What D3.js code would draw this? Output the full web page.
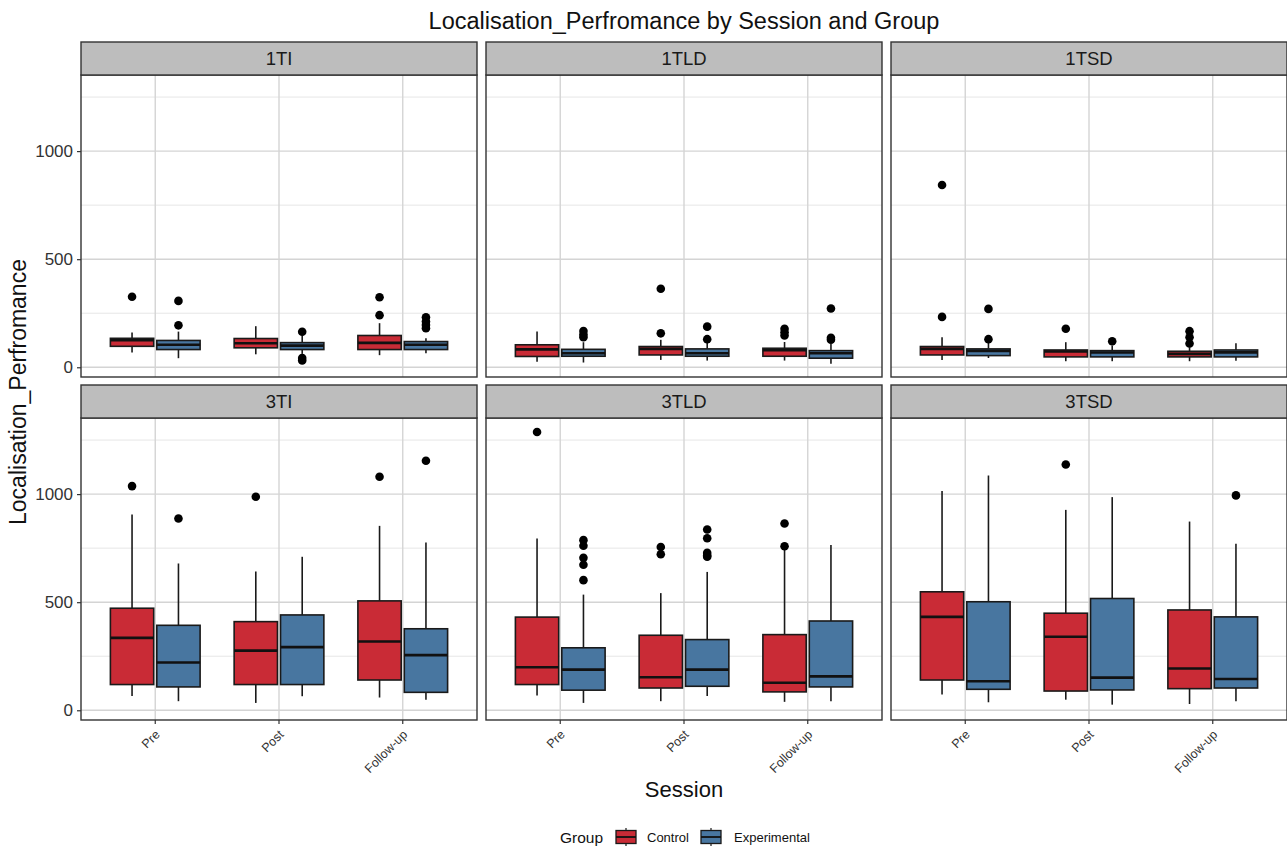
<!DOCTYPE html>
<html>
<head>
<meta charset="utf-8">
<script src="https://cdn.jsdelivr.net/npm/d3@7"></script>
<style>
  body { margin: 0; background: #fff; }
  svg { display: block; font-family: "Liberation Sans", Arial, sans-serif; }
</style>
</head>
<body>
<svg id="chart" width="1287" height="846"></svg>
<script>
"use strict";

// Facets, sessions and groups
const facets = ["1TI", "1TLD", "1TSD", "3TI", "3TLD", "3TSD"];
const sessions = ["Pre", "Post", "Follow-up"];
const groups = ["Control", "Experimental"];

// Box stats per facet: [whisker low, q1, median, q3, whisker high]
// order: Pre-Control, Pre-Exp, Post-Control, Post-Exp, Follow-Control, Follow-Exp
const box1TI = [
    [68, 97, 125, 134, 161], [42, 82, 104, 124, 165],
    [60, 90, 111, 133, 190], [62, 82, 100, 114, 147],
    [56, 82, 113, 147, 204], [65, 82, 104, 119, 134]
];
const box1TLD = [
    [26, 50, 83, 104, 165], [22, 51, 65, 83, 116],
    [34, 57, 85, 96, 127], [31, 51, 65, 85, 114],
    [31, 51, 79, 88, 117], [16, 42, 65, 77, 108]
];
const box1TSD = [
    [34, 57, 85, 96, 139], [43, 54, 76, 85, 116],
    [28, 48, 73, 80, 116], [28, 48, 68, 77, 99],
    [28, 48, 62, 74, 93], [30, 48, 69, 80, 111]
];
const box3TI = [
    [66, 119, 335, 472, 906], [42, 108, 221, 393, 679],
    [34, 119, 276, 410, 642], [65, 119, 292, 441, 710],
    [59, 140, 318, 506, 853], [49, 83, 255, 377, 776]
];
const box3TLD = [
    [68, 119, 199, 431, 795], [34, 93, 188, 289, 535],
    [42, 103, 153, 347, 542], [66, 111, 188, 327, 640],
    [39, 85, 127, 350, 745], [42, 108, 157, 413, 764]
];
const box3TSD = [
    [73, 140, 432, 548, 1014], [37, 97, 134, 502, 1086],
    [49, 89, 340, 449, 927], [26, 94, 151, 517, 986],
    [29, 100, 193, 464, 873], [42, 103, 145, 432, 770]
];

// Outliers, same order
const out1TI = [[326], [307, 194], [], [164, 43, 31], [324, 241], [231, 212, 196, 181]];
const out1TLD = [[], [168, 151, 139], [363, 157], [188, 130], [178, 162, 147], [272, 136, 127]];
const out1TSD = [[843, 233], [270, 130], [178], [120], [167, 139, 110], []];
const out3TI = [[1037], [887], [988], [], [1080], [1154]];
const out3TLD = [[1287], [787, 761, 705, 673, 602], [755, 722], [836, 796, 728, 716, 710], [864, 759], []];
const out3TSD = [[], [], [1137], [], [], [994]];

const yTicks = [0, 500, 1000];
const yMinor = [250, 750, 1250];

const boxes = [box1TI, box1TLD, box1TSD, box3TI, box3TLD, box3TSD];
const outliers = [out1TI, out1TLD, out1TSD, out3TI, out3TLD, out3TSD];

const groupColor = d3.scaleOrdinal().domain(groups).range(["#c92b36", "#4876a0"]);

// Layout (ggplot facet_wrap look)
const panelLeft = [81, 486, 891],
    panelWidth = 396,
    stripTop = [42, 385],
    stripHeight = 33,
    panelHeight = 302;

const svg = d3.select("#chart");

svg.append("text")
    .attr("x", 684).attr("y", 29)
    .attr("text-anchor", "middle")
    .attr("font-size", 23.5)
    .attr("fill", "#111")
    .text("Localisation_Perfromance by Session and Group");

facets.forEach((facet, fi) => {
    const col = fi % 3, row = Math.floor(fi / 3);
    const x0 = panelLeft[col], sTop = stripTop[row], pTop = sTop + stripHeight;

    const x = d3.scaleBand().domain(sessions)
        .range([0, panelWidth]).paddingOuter(0.1).paddingInner(0);
    const step = x.step();
    const y = d3.scaleLinear().domain([-45, 1352]).range([panelHeight, 0]);

    const g = svg.append("g").attr("transform", `translate(${x0},${pTop})`);

    // grid
    g.selectAll(".minor").data(yMinor).join("line")
        .attr("x1", 0).attr("x2", panelWidth)
        .attr("y1", d => y(d)).attr("y2", d => y(d))
        .attr("stroke", "#e6e6e6").attr("stroke-width", 1);
    g.selectAll(".major").data(yTicks).join("line")
        .attr("x1", 0).attr("x2", panelWidth)
        .attr("y1", d => y(d)).attr("y2", d => y(d))
        .attr("stroke", "#d4d4d4").attr("stroke-width", 1.4);
    g.selectAll(".vgrid").data(sessions).join("line")
        .attr("x1", d => x(d) + step / 2).attr("x2", d => x(d) + step / 2)
        .attr("y1", 0).attr("y2", panelHeight)
        .attr("stroke", "#d4d4d4").attr("stroke-width", 1.4);

    // boxes
    const dodge = step * 0.375, bw = step * 0.35;
    boxes[fi].forEach((s, i) => {
        const session = sessions[Math.floor(i / 2)], group = groups[i % 2];
        const cx = x(session) + step / 2 + (i % 2 === 0 ? -dodge / 2 : dodge / 2);
        const [lo, q1, med, q3, hi] = s;
        const bg = g.append("g");
        bg.append("line").attr("x1", cx).attr("x2", cx)
            .attr("y1", y(hi)).attr("y2", y(q3))
            .attr("stroke", "#1a1a1a").attr("stroke-width", 1.6);
        bg.append("line").attr("x1", cx).attr("x2", cx)
            .attr("y1", y(q1)).attr("y2", y(lo))
            .attr("stroke", "#1a1a1a").attr("stroke-width", 1.6);
        bg.append("rect")
            .attr("x", cx - bw / 2).attr("width", bw)
            .attr("y", y(q3)).attr("height", y(q1) - y(q3))
            .attr("fill", groupColor(group))
            .attr("stroke", "#1a1a1a").attr("stroke-width", 1.6);
        bg.append("line").attr("x1", cx - bw / 2).attr("x2", cx + bw / 2)
            .attr("y1", y(med)).attr("y2", y(med))
            .attr("stroke", "#111").attr("stroke-width", 2.6);
        bg.selectAll("circle").data(outliers[fi][i]).join("circle")
            .attr("cx", cx).attr("cy", d => y(d)).attr("r", 4.3)
            .attr("fill", "#000");
    });

    // panel border
    g.append("rect").attr("width", panelWidth).attr("height", panelHeight)
        .attr("fill", "none").attr("stroke", "#333").attr("stroke-width", 1.4);

    // strip
    svg.append("rect")
        .attr("x", x0).attr("y", sTop).attr("width", panelWidth).attr("height", stripHeight)
        .attr("fill", "#bdbdbd").attr("stroke", "#333").attr("stroke-width", 1.4);
    svg.append("text")
        .attr("x", x0 + panelWidth / 2).attr("y", sTop + stripHeight / 2 + 6.5)
        .attr("text-anchor", "middle").attr("font-size", 18.5).attr("fill", "#1a1a1a")
        .text(facet);

    // y axis on left column
    if (col === 0) {
        const ya = g.append("g")
            .call(d3.axisLeft(y).tickValues(yTicks).tickFormat(d3.format("d")).tickSize(4).tickPadding(4));
        ya.select(".domain").remove();
        ya.selectAll("line").attr("stroke", "#333").attr("stroke-width", 1.2);
        ya.selectAll("text").attr("font-size", 17).attr("fill", "#333")
            .attr("font-family", "Liberation Sans, Arial, sans-serif");
    }

    // x axis on bottom row
    if (row === 1) {
        const xa = g.append("g").attr("transform", `translate(0,${panelHeight})`)
            .call(d3.axisBottom(x).tickSize(4).tickPadding(2));
        xa.select(".domain").remove();
        xa.selectAll("line").attr("stroke", "#333").attr("stroke-width", 1.2);
        xa.selectAll("text")
            .attr("font-size", 12.5).attr("fill", "#333")
            .attr("font-family", "Liberation Sans, Arial, sans-serif")
            .attr("text-anchor", "end")
            .attr("dy", "0.35em")
            .attr("transform", "translate(-2,8) rotate(-45)");
    }
});

// axis titles
svg.append("text")
    .attr("x", 684).attr("y", 797)
    .attr("text-anchor", "middle").attr("font-size", 22).attr("fill", "#111")
    .text("Session");
svg.append("text")
    .attr("transform", "translate(26,392) rotate(-90)")
    .attr("text-anchor", "middle").attr("font-size", 23).attr("fill", "#111")
    .text("Localisation_Perfromance");

// legend
const legend = svg.append("g").attr("transform", "translate(560,837)");
legend.append("text").attr("x", 0).attr("y", 6).attr("font-size", 15.5).attr("fill", "#111").text("Group");
const legendX = [56, 141], legendTextX = [87, 174];
groups.forEach((grp, i) => {
    const k = legend.append("g").attr("transform", `translate(${legendX[i]},0)`);
    k.append("line").attr("x1", 10).attr("x2", 10).attr("y1", -9).attr("y2", 9)
        .attr("stroke", "#1a1a1a").attr("stroke-width", 1.2);
    k.append("rect").attr("x", 0).attr("y", -6.5).attr("width", 20).attr("height", 13)
        .attr("fill", groupColor(grp)).attr("stroke", "#1a1a1a").attr("stroke-width", 1.3);
    k.append("line").attr("x1", 0).attr("x2", 20).attr("y1", 0).attr("y2", 0)
        .attr("stroke", "#111").attr("stroke-width", 1.8);
    legend.append("text").attr("x", legendTextX[i]).attr("y", 5)
        .attr("font-size", 13).attr("fill", "#111").text(grp);
});
</script>
</body>
</html>
